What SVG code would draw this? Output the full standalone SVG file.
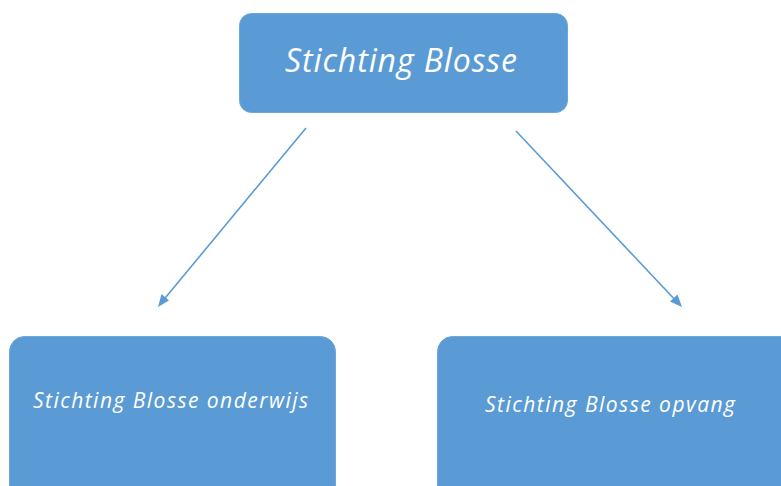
<svg xmlns="http://www.w3.org/2000/svg" width="781" height="486" viewBox="0 0 781 486">
<style>
.box{fill:#5B9BD5;stroke:#6FA6DA;stroke-width:1}
.lbl{fill:#FFFFFF;font-family:"Open Sans","Noto Sans","DejaVu Sans",sans-serif;font-style:italic;text-anchor:middle}
.conn{stroke:#5B9BD5;stroke-width:1.6;fill:none}
.head{fill:#5B9BD5}
</style>
<rect width="781" height="486" fill="#FFFFFF"/>
<g id="connectors">
<line class="conn" x1="306" y1="128" x2="161" y2="303"/>
<path class="head" d="M158,307 L161.5,294 L169,300.5 Z"/>
<line class="conn" x1="516" y1="131" x2="679" y2="304"/>
<path class="head" d="M682,307 L670,301.5 L677.5,294.5 Z"/>
</g>
<g id="node-top">
<rect class="box" x="239.5" y="13.5" width="328" height="99" rx="12"/>
<text class="lbl" x="401" y="72" font-size="32" textLength="232" lengthAdjust="spacing">Stichting Blosse</text>
</g>
<g id="node-onderwijs">
<rect class="box" x="9.5" y="336.5" width="326" height="170" rx="15"/>
<text class="lbl" x="170.5" y="408" font-size="21" textLength="275" lengthAdjust="spacing">Stichting Blosse onderwijs</text>
</g>
<g id="node-opvang">
<rect class="box" x="437.5" y="336.5" width="360" height="170" rx="15"/>
<text class="lbl" x="610" y="412" font-size="21" textLength="250" lengthAdjust="spacing">Stichting Blosse opvang</text>
</g>
</svg>
